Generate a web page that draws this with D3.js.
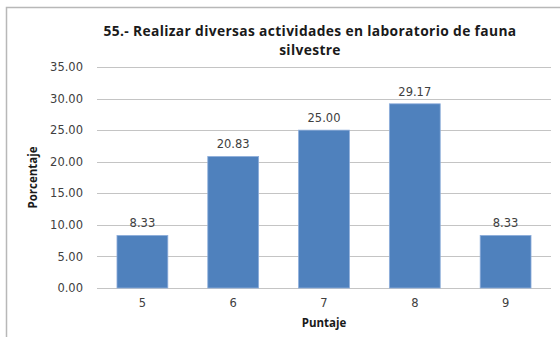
<!DOCTYPE html>
<html>
<head>
<meta charset="utf-8">
<script src="https://cdn.jsdelivr.net/npm/d3@7"></script>
<style>
  html, body { margin: 0; padding: 0; background: #fff; }
  svg { display: block; }
</style>
</head>
<body>
<svg id="chart" width="560" height="337"></svg>
<script>
// Puntaje obtenido y porcentaje de respuestas
const categories = ["5", "6", "7", "8", "9"];
const values = [8.33, 20.83, 25.00, 29.17, 8.33];
const yTicks = [0, 5, 10, 15, 20, 25, 30, 35];
const titleLines = ["55.- Realizar diversas actividades en laboratorio de fauna", "silvestre"];
const xTitle = "Puntaje";
const yTitle = "Porcentaje";

const svg = d3.select("#chart");
const W = 560, H = 337;
const margin = { left: 97, right: 9, top: 67, bottom: 49 };

svg.append("rect").attr("width", W).attr("height", H).attr("fill", "#fff");

// chart frame (left and top edges)
svg.append("path")
  .attr("d", `M6.5,${H} L6.5,7.5 L${W},7.5`)
  .attr("fill", "none").attr("stroke", "#b8b8b8").attr("stroke-width", 1.5);

const x = d3.scaleBand()
  .domain(categories)
  .range([margin.left, W - margin.right])
  .paddingInner(0.44).paddingOuter(0.22);

const y = d3.scaleLinear()
  .domain([0, 35])
  .range([H - margin.bottom, margin.top]);

// gridlines
svg.append("g").selectAll("line").data(yTicks).join("line")
  .attr("x1", margin.left).attr("x2", W - margin.right)
  .attr("y1", d => Math.round(y(d)) + 0.5).attr("y2", d => Math.round(y(d)) + 0.5)
  .attr("stroke", "#c4c4c4").attr("stroke-width", 1);

// y axis labels
const yAxis = d3.axisLeft(y).tickValues(yTicks).tickFormat(d3.format(".2f")).tickSize(0).tickPadding(14);
const gy = svg.append("g").attr("transform", `translate(${margin.left},0)`).call(yAxis);
gy.select(".domain").remove();
gy.selectAll("text").attr("font-family", "DejaVu Sans").attr("font-size", 11.5).attr("fill", "#404040");

// x axis labels
const xAxis = d3.axisBottom(x).tickSize(0).tickPadding(11);
const gx = svg.append("g").attr("transform", `translate(0,${y(0)})`).call(xAxis);
gx.select(".domain").remove();
gx.selectAll("text").attr("font-family", "DejaVu Sans").attr("font-size", 11.5).attr("fill", "#404040");

// bars
svg.append("g").selectAll("rect").data(values).join("rect")
  .attr("x", (d, i) => x(categories[i]))
  .attr("width", x.bandwidth())
  .attr("y", d => y(d))
  .attr("height", d => y(0) - y(d))
  .attr("fill", "#4f81bd")
  .attr("stroke", "#8eaedb").attr("stroke-width", 0.8);

// value labels
svg.append("g").selectAll("text").data(values).join("text")
  .attr("x", (d, i) => x(categories[i]) + x.bandwidth() / 2)
  .attr("y", d => y(d) - 8)
  .attr("text-anchor", "middle")
  .attr("font-family", "DejaVu Sans").attr("font-size", 11.5).attr("fill", "#404040")
  .text(d => d.toFixed(2));

// title, two lines; letter spacing widens the first line to its full width
const titleY = [36, 55];
const titles = svg.append("g").selectAll("text").data(titleLines).join("text")
  .attr("x", 310).attr("y", (d, i) => titleY[i])
  .attr("text-anchor", "middle")
  .attr("font-family", "Open Sans").attr("font-weight", "bold")
  .attr("font-size", 13.8).attr("fill", "#1a1a1a")
  .text(d => d);
const first = titles.nodes()[0];
const gap = (413 - first.getComputedTextLength()) / titleLines[0].length;
titles.attr("letter-spacing", Math.max(0, gap));

// axis titles
svg.append("text")
  .attr("x", (margin.left + W - margin.right) / 2).attr("y", 327)
  .attr("text-anchor", "middle")
  .attr("font-family", "Open Sans").attr("font-weight", "bold")
  .attr("font-size", 11.5).attr("fill", "#1a1a1a")
  .text(xTitle);

svg.append("text")
  .attr("transform", `translate(37,${(y(0) + y(35)) / 2}) rotate(-90)`)
  .attr("text-anchor", "middle")
  .attr("font-family", "Open Sans").attr("font-weight", "bold")
  .attr("font-size", 11.5).attr("fill", "#1a1a1a")
  .text(yTitle);
</script>
</body>
</html>
